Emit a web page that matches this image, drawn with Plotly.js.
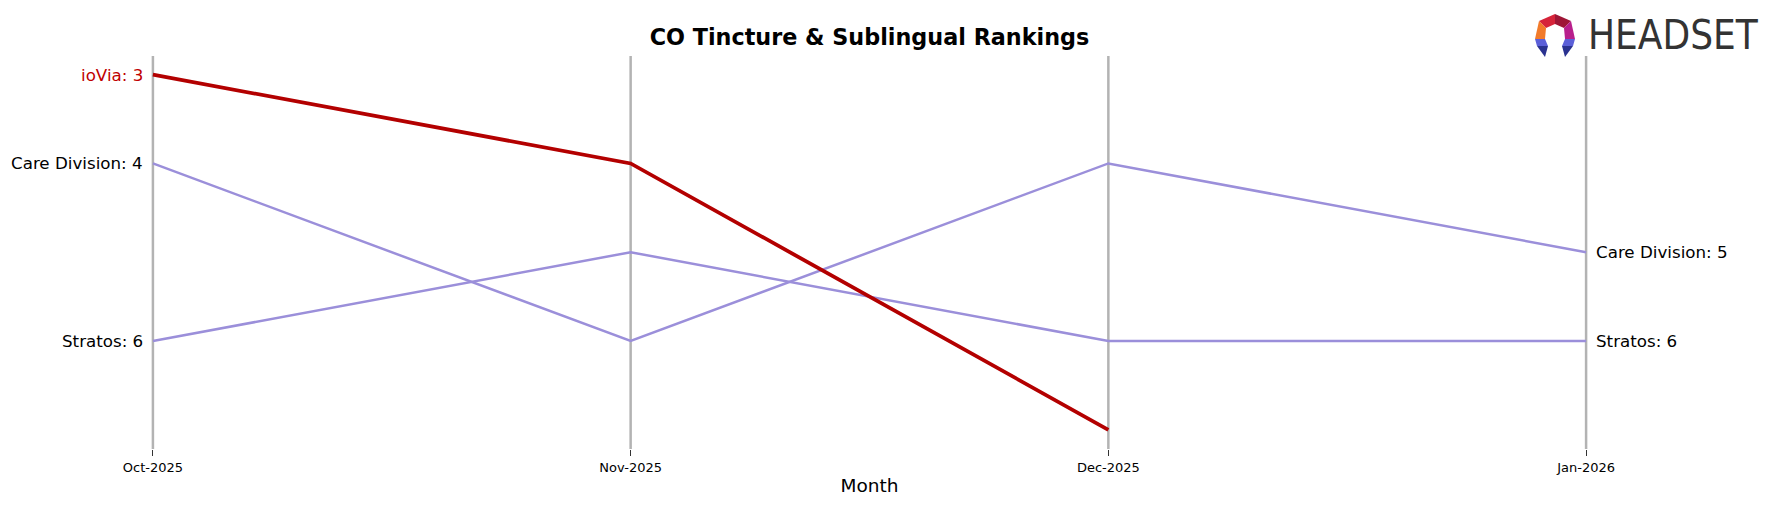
<!DOCTYPE html>
<html>
<head>
<meta charset="utf-8">
<script src="https://cdn.plot.ly/plotly-3.0.1.min.js"></script>
<style>html,body{margin:0;padding:0;background:#fff;}#chart{width:1769px;height:507px;}</style>
</head>
<body>
<div id="chart"></div>
<script>
// ---- data ----
const months = ['Oct-2025', 'Nov-2025', 'Dec-2025', 'Jan-2026'];
const brands = ['Care Division', 'Stratos', 'ioVia'];
const careDivision = [4, 6, 4, 5];
const stratos = [6, 5, 6, 6];
const ioVia = [3, 4, 7, null];
const chartTitle = 'CO Tincture & Sublingual Rankings';
const xTitle = 'Month';

const seriesValues = [careDivision, stratos, ioVia];
const highlight = 'ioVia';
const RED = '#b30000';
const PURPLE = '#9b8fda';
const FONT = 'DejaVu Sans, Verdana, sans-serif';

const traces = brands.map((b, i) => ({
  type: 'scatter', mode: 'lines', name: b,
  x: months, y: seriesValues[i],
  connectgaps: false,
  line: { color: b === highlight ? RED : PURPLE, width: b === highlight ? 3.8 : 2.5 },
  hoverinfo: 'skip', showlegend: false, cliponaxis: false
}));

const annotations = [];
brands.forEach((b, i) => {
  const vals = seriesValues[i];
  const col = b === highlight ? '#c00000' : '#000000';
  if (vals[0] !== null) {
    annotations.push({ x: months[0], y: vals[0], xref: 'x', yref: 'y', text: b + ': ' + vals[0],
      showarrow: false, xanchor: 'right', yanchor: 'middle', xshift: -8,
      font: { family: FONT, size: 16.7, color: col } });
  }
  const last = vals[vals.length - 1];
  if (last !== null) {
    annotations.push({ x: months[months.length - 1], y: last, xref: 'x', yref: 'y', text: b + ': ' + last,
      showarrow: false, xanchor: 'left', yanchor: 'middle', xshift: 8,
      font: { family: FONT, size: 16.7, color: col } });
  }
});

// Logo text
annotations.push({ x: 1.0, y: 1.053, xref: 'paper', yref: 'paper', text: 'HEADSET', showarrow: false,
  xanchor: 'left', yanchor: 'middle', xshift: -2,
  font: { family: 'Liberation Sans Narrow, DejaVu Sans Condensed, Roboto, sans-serif', size: 40, color: '#333333' } });

const iconSvg = `<svg xmlns="http://www.w3.org/2000/svg" viewBox="0 0 44 44" width="44" height="44">
<polygon points="22,0 6,7 13,14 22,10" fill="#d6243a"/>
<polygon points="22,0 38,7 31,14 22,10" fill="#9e1636"/>
<polygon points="6,7 2,25 12,25 13,14" fill="#f27b2a"/>
<polygon points="38,7 42,25 32,25 31,14" fill="#b81f8c"/>
<polygon points="2,25 12,25 15,32 4,32" fill="#5b5fd8"/>
<polygon points="4,32 15,32 12,43" fill="#2a3290"/>
<polygon points="42,25 32,25 29,32 40,32" fill="#5b5fd8"/>
<polygon points="40,32 29,32 32,43" fill="#2a3290"/>
</svg>`;
const iconUri = 'data:image/svg+xml;base64,' + btoa(iconSvg);

const shapes = months.map(m => ({
  type: 'line', xref: 'x', yref: 'paper', x0: m, x1: m, y0: 0, y1: 1,
  line: { color: '#b3b3b3', width: 2.5 }, layer: 'below'
}));

const PAD = 0.004;
const layout = {
  width: 1769, height: 507,
  paper_bgcolor: '#ffffff', plot_bgcolor: '#ffffff',
  margin: { l: 151, r: 181, t: 56, b: 58 },
  title: { text: '<b>' + chartTitle + '</b>', x: 0.5, xref: 'paper', y: 1 - 37 / 507, yanchor: 'middle',
    font: { family: FONT, size: 22.3, color: '#000' } },
  xaxis: {
    type: 'category', categoryorder: 'array', categoryarray: months,
    range: [-PAD, 3 + PAD], showgrid: false, zeroline: false, showline: false,
    ticks: 'outside', ticklen: 6, tickwidth: 1, tickcolor: '#333',
    tickfont: { family: FONT, size: 13, color: '#000' },
    title: { text: xTitle, standoff: 5, font: { family: FONT, size: 18.5, color: '#000' } },
    fixedrange: true
  },
  yaxis: {
    range: [7.216, 2.79], showgrid: false, zeroline: false, showline: false,
    showticklabels: false, ticks: '', fixedrange: true
  },
  shapes: shapes,
  annotations: annotations,
  images: [{ source: iconUri, xref: 'paper', yref: 'paper',
    x: (1533 - 151) / 1437, y: (449 - 14) / 393, sizex: 44 / 1437, sizey: 44 / 393,
    xanchor: 'left', yanchor: 'top', sizing: 'stretch', layer: 'above' }],
  showlegend: false
};

Plotly.newPlot('chart', traces, layout, { displayModeBar: false, staticPlot: true });
</script>
</body>
</html>
